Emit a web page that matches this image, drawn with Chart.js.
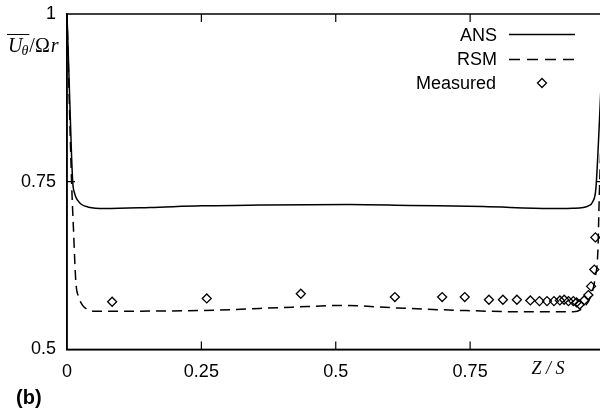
<!DOCTYPE html>
<html>
<head>
<meta charset="utf-8">
<script src="https://cdn.jsdelivr.net/npm/chart.js@4.4.1/dist/chart.umd.min.js"></script>
<style>
html,body{margin:0;padding:0;background:#fff;overflow:hidden;width:600px;height:410px;}
#wrap{width:620px;height:410px;position:relative;}
</style>
</head>
<body>
<div id="wrap"><canvas id="c" width="620" height="410"></canvas></div>
<script>
// ---- data ----
const ansX = [0, 0.004, 0.008, 0.0106, 0.014, 0.02, 0.027, 0.04, 0.07, 0.154, 0.25, 0.359, 0.526, 0.638, 0.774, 0.9, 0.94, 0.96, 0.97, 0.978, 0.984, 0.99, 0.995, 1];
const ansY = [1.0, 0.9, 0.8, 0.75, 0.733, 0.722, 0.716, 0.712, 0.710, 0.7115, 0.714, 0.7151, 0.716, 0.7145, 0.713, 0.710, 0.7105, 0.7115, 0.714, 0.72, 0.74, 0.83, 0.92, 1.0];
const rsmX = [0, 0.0085, 0.012, 0.0165, 0.022, 0.0287, 0.04, 0.0516, 0.1, 0.253, 0.42, 0.513, 0.614, 0.737, 0.862, 0.942, 0.96, 0.9734, 0.9827, 0.9877, 0.990, 0.995, 1];
const rsmY = [1.0, 0.75, 0.68, 0.60, 0.578, 0.566, 0.559, 0.557, 0.557, 0.558, 0.563, 0.5655, 0.5618, 0.558, 0.556, 0.556, 0.562, 0.577, 0.607, 0.647, 0.72, 0.85, 1.0];
const measX = [0.084, 0.260, 0.435, 0.610, 0.698, 0.740, 0.785, 0.811, 0.837, 0.862, 0.879, 0.893, 0.906, 0.917, 0.925, 0.933, 0.942, 0.948, 0.954, 0.962, 0.970, 0.975, 0.981, 0.983];
const measY = [0.571, 0.576, 0.583, 0.578, 0.578, 0.578, 0.574, 0.574, 0.574, 0.573, 0.572, 0.572, 0.572, 0.573, 0.574, 0.572, 0.572, 0.570, 0.567, 0.573, 0.581, 0.594, 0.619, 0.667];
const xTicks = [0, 0.25, 0.5, 0.75, 1];
const xTickLabels = ['0', '0.25', '0.5', '0.75', '1'];
const yTicks = [0.5, 0.75, 1];
const yTickLabels = ['0.5', '0.75', '1'];
const seriesNames = ['ANS', 'RSM', 'Measured'];

const pts = (xs, ys) => xs.map((x, i) => ({x: x, y: ys[i]}));
const SANS = '"Liberation Sans", Arial, sans-serif';
const SERIF = '"Liberation Serif", "Times New Roman", serif';

const decor = {
  id: 'decor',
  afterDraw(chart) {
    const ctx = chart.ctx;
    const a = chart.chartArea;
    const xs = chart.scales.x, ys = chart.scales.y;
    ctx.save();
    ctx.strokeStyle = '#000';
    ctx.lineWidth = 1.5;
    ctx.strokeRect(a.left, a.top, a.right - a.left, a.bottom - a.top);
    // inward ticks
    ctx.lineWidth = 1.2;
    ctx.beginPath();
    xTicks.forEach(v => {
      if (v === 0 || v === 1) return;
      const px = xs.getPixelForValue(v);
      ctx.moveTo(px, a.bottom); ctx.lineTo(px, a.bottom - 8);
      ctx.moveTo(px, a.top); ctx.lineTo(px, a.top + 8);
    });
    yTicks.forEach(v => {
      if (v === 0.5 || v === 1) return;
      const py = ys.getPixelForValue(v);
      ctx.moveTo(a.left, py); ctx.lineTo(a.left + 8, py);
      ctx.moveTo(a.right, py); ctx.lineTo(a.right - 8, py);
    });
    ctx.stroke();

    // legend
    ctx.fillStyle = '#000';
    ctx.font = '18px ' + SANS;
    ctx.textAlign = 'right';
    ctx.textBaseline = 'middle';
    ctx.fillText(seriesNames[0], 497, 36);
    ctx.fillText(seriesNames[1], 497, 60);
    ctx.fillText(seriesNames[2], 496, 84);
    ctx.lineWidth = 1.5;
    ctx.beginPath(); ctx.moveTo(509, 34.5); ctx.lineTo(575, 34.5); ctx.stroke();
    ctx.setLineDash([11, 7]);
    ctx.beginPath(); ctx.moveTo(509, 59.5); ctx.lineTo(577, 59.5); ctx.stroke();
    ctx.setLineDash([]);
    ctx.lineWidth = 1.3;
    ctx.beginPath();
    ctx.moveTo(542, 78.5); ctx.lineTo(546.5, 83); ctx.lineTo(542, 87.5); ctx.lineTo(537.5, 83); ctx.closePath();
    ctx.stroke();

    // x axis title
    ctx.font = 'italic 18px ' + SERIF;
    ctx.textAlign = 'center';
    ctx.fillText('Z / S', 548, 369);

    // y axis title: overline U_theta / Omega r
    ctx.textAlign = 'left';
    ctx.textBaseline = 'alphabetic';
    let x = 8;
    const base = 52;
    ctx.font = 'italic 20px ' + SERIF;
    ctx.fillText('U', x, base);
    x += ctx.measureText('U').width - 1;
    ctx.font = 'italic 14px ' + SERIF;
    ctx.fillText('θ', x, base + 3);
    x += ctx.measureText('θ').width + 1;
    ctx.lineWidth = 1;
    ctx.beginPath(); ctx.moveTo(7, 34.5); ctx.lineTo(x, 34.5); ctx.stroke();
    ctx.font = '20px ' + SERIF;
    ctx.fillText('/Ω', x, base);
    x += ctx.measureText('/Ω').width;
    ctx.font = 'italic 20px ' + SERIF;
    ctx.fillText('r', x + 1, base);

    // panel label
    ctx.font = 'bold 20px ' + SANS;
    ctx.textBaseline = 'middle';
    ctx.fillText('(b)', 16, 398);
    ctx.restore();
  }
};

new Chart(document.getElementById('c'), {
  type: 'scatter',
  data: {
    datasets: [
      { label: seriesNames[0], data: pts(ansX, ansY), showLine: true, borderColor: '#000', borderWidth: 1.5, pointRadius: 0, cubicInterpolationMode: 'monotone', fill: false },
      { label: seriesNames[1], data: pts(rsmX, rsmY), showLine: true, borderColor: '#000', borderWidth: 1.5, borderDash: [10, 6], pointRadius: 0, cubicInterpolationMode: 'monotone', fill: false },
      { label: seriesNames[2], data: pts(measX, measY), showLine: false, pointStyle: 'rectRot', pointRadius: 4.5, pointBorderWidth: 1.3, pointBorderColor: '#000', pointBackgroundColor: 'rgba(0,0,0,0)' }
    ]
  },
  options: {
    responsive: false,
    animation: false,
    layout: { padding: { top: 14, right: 15.5, bottom: 15, left: 0 } },
    plugins: { legend: { display: false }, tooltip: { enabled: false } },
    scales: {
      x: {
        type: 'linear', min: 0, max: 1,
        afterBuildTicks: s => { s.ticks = xTicks.map(v => ({value: v})); },
        afterFit: s => { s.paddingLeft = 0; s.paddingRight = 0; },
        ticks: { autoSkip: false, maxRotation: 0, padding: 12, color: '#000', font: { family: SANS, size: 18 },
                 callback: (v) => { const i = xTicks.indexOf(v); return i >= 0 ? xTickLabels[i] : ''; } },
        grid: { display: true, drawOnChartArea: false, drawTicks: false },
        border: { display: true, color: '#000', width: 1.5 }
      },
      y: {
        type: 'linear', min: 0.5, max: 1,
        afterBuildTicks: s => { s.ticks = yTicks.map(v => ({value: v})); },
        afterFit: s => { s.width = 67; s.paddingTop = 0; s.paddingBottom = 0; },
        ticks: { autoSkip: false, padding: 11, color: '#000', font: { family: SANS, size: 18 },
                 callback: (v) => { const i = yTicks.indexOf(v); return i >= 0 ? yTickLabels[i] : ''; } },
        grid: { display: true, drawOnChartArea: false, drawTicks: false },
        border: { display: true, color: '#000', width: 1.5 }
      }
    }
  },
  plugins: [decor]
});
</script>
</body>
</html>
